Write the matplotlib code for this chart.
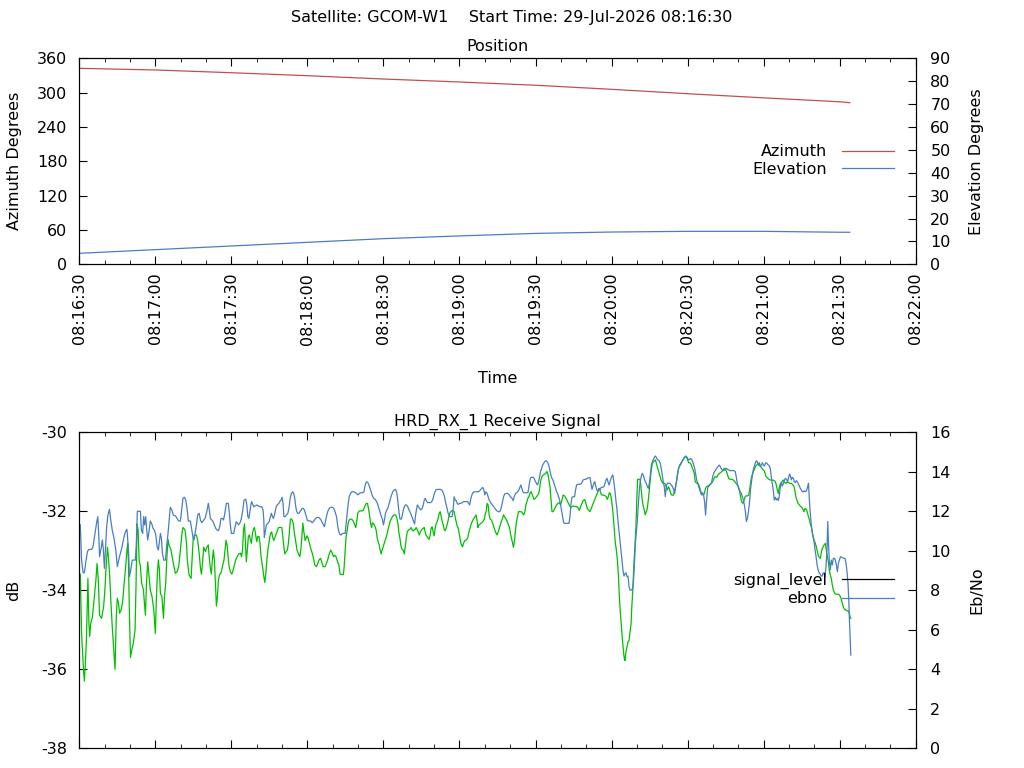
import numpy as np
import matplotlib
matplotlib.use("Agg")
import matplotlib.pyplot as plt
from matplotlib.ticker import MultipleLocator, FuncFormatter
from matplotlib.lines import Line2D

plt.rcParams['font.family'] = 'DejaVu Sans'
plt.rcParams['font.size'] = 11.5
plt.rcParams['axes.titlesize'] = 11.5
plt.rcParams['axes.unicode_minus'] = False

# start of pass, seconds since midnight (08:16:30)
START = 8 * 3600 + 16 * 60 + 30

# position (seconds from start)
pos_t = [0, 30, 60, 90, 120, 150, 180, 210, 240, 270, 300, 304]
azimuth = [342.5, 339.6, 334.8, 329.6, 323.8, 318.6, 312.9, 305.8, 298.1, 290.9, 284.0, 282.4]
elevation = [4.8, 6.4, 8.0, 9.6, 11.2, 12.4, 13.5, 14.1, 14.4, 14.4, 14.0, 14.0]

# signal level (dB), left axis
sig_t = [0.4, 0.9, 1.7, 2.0, 2.4, 2.8, 3.2, 3.4, 3.8, 4.1, 4.5, 5.2, 5.8, 6.5, 7.0, 7.3, 7.5, 8.0, 8.8, 9.6,
         10.1, 10.5, 11.1, 11.5, 12.0, 12.5, 13.0, 13.6, 14.1, 14.6, 15.0, 15.5, 15.9, 16.5, 17.1, 17.8, 18.3, 18.8, 19.1, 19.4,
         19.8, 20.2, 20.7, 21.3, 22.0, 22.4, 22.8, 23.2, 23.6, 24.1, 24.6, 25.3, 25.7, 26.1, 26.5, 27.0, 27.4, 28.0, 28.7, 29.4,
         29.8, 30.0, 30.4, 30.8, 31.2, 31.6, 32.0, 32.6, 33.2, 33.6, 34.1, 34.5, 35.0, 35.4, 36.2, 37.1, 37.9, 38.6, 39.2, 39.9,
         40.5, 40.9, 41.7, 42.3, 42.6, 43.3, 44.1, 44.5, 44.9, 45.4, 46.2, 46.7, 47.3, 47.8, 48.2, 48.7, 49.1, 49.8, 50.4, 50.9,
         51.3, 51.7, 52.1, 52.5, 52.9, 53.3, 53.7, 54.1, 54.5, 54.9, 55.3, 55.8, 56.2, 56.6, 57.1, 57.5, 57.9, 58.3, 58.7, 59.1,
         59.6, 60.2, 60.7, 61.2, 61.7, 62.3, 62.9, 63.6, 64.0, 64.4, 64.8, 65.2, 65.5, 65.9, 66.3, 66.7, 67.1, 67.5, 67.9, 68.3,
         68.7, 69.1, 69.5, 70.0, 70.4, 70.9, 71.3, 71.7, 72.3, 72.8, 73.2, 73.6, 74.0, 74.4, 74.8, 75.2, 75.5, 75.9, 76.3, 76.7,
         77.1, 77.5, 78.0, 78.6, 79.2, 79.9, 80.3, 80.7, 81.1, 81.6, 82.1, 82.5, 82.9, 83.3, 83.8, 84.4, 84.8, 85.2, 85.5, 85.9,
         86.5, 87.0, 87.4, 87.8, 88.2, 88.6, 89.1, 89.5, 89.9, 90.3, 90.8, 91.3, 91.9, 92.4, 92.9, 93.6, 94.1, 94.6, 95.2, 95.7,
         96.2, 97.0, 97.5, 98.0, 98.6, 99.2, 99.8, 100.3, 100.8, 101.3, 101.9, 102.4, 102.7, 102.9, 103.6, 104.2, 104.5, 104.9, 105.3, 105.7,
         106.2, 106.7, 107.5, 108.2, 108.7, 109.1, 109.5, 109.9, 110.4, 111.5, 112.1, 112.6, 113.2, 113.7, 114.1, 114.5, 114.9, 115.3, 115.7, 116.2,
         116.7, 117.1, 117.5, 117.9, 118.3, 118.7, 119.1, 119.5, 120.0, 120.5, 121.1, 121.6, 122.1, 122.6, 123.2, 123.7, 124.2, 124.8, 125.3, 125.7,
         126.1, 126.5, 126.9, 127.3, 127.8, 128.2, 128.6, 129.0, 129.4, 129.9, 130.4, 130.9, 131.3, 131.7, 132.1, 132.5, 132.9, 133.3, 133.7, 134.1,
         134.6, 135.1, 135.7, 136.1, 136.5, 136.9, 137.3, 137.6, 138.0, 138.4, 138.8, 139.2, 139.6, 140.0, 140.4, 140.8, 141.2, 141.6, 142.0, 142.4,
         142.8, 143.2, 143.6, 144.0, 144.4, 144.8, 145.3, 145.8, 146.3, 146.9, 147.4, 147.9, 148.4, 149.0, 149.5, 150.0, 150.4, 150.8, 151.2, 151.6,
         152.1, 152.6, 153.2, 153.6, 154.0, 154.5, 155.0, 155.5, 156.1, 156.5, 156.9, 157.3, 157.6, 158.2, 158.7, 159.2, 159.8, 160.1, 160.5, 160.9,
         161.3, 161.7, 162.1, 162.6, 163.2, 163.7, 164.2, 164.8, 165.1, 165.5, 165.9, 166.5, 167.0, 167.4, 167.8, 168.2, 168.7, 169.2, 169.8, 170.1,
         170.5, 170.9, 171.3, 171.7, 172.1, 172.5, 172.9, 173.3, 173.8, 174.4, 174.9, 175.4, 175.8, 176.2, 176.6, 177.0, 177.4, 177.8, 178.2, 178.6,
         179.0, 179.4, 179.9, 180.4, 180.9, 181.3, 181.7, 182.1, 182.5, 183.0, 183.6, 184.1, 184.5, 184.9, 185.3, 185.7, 186.1, 186.5, 186.9, 187.3,
         187.8, 188.3, 188.8, 189.4, 189.9, 190.4, 190.9, 191.5, 192.0, 192.5, 193.0, 193.6, 194.1, 194.6, 195.2, 195.7, 196.2, 196.7, 197.3, 197.8,
         198.3, 198.8, 199.4, 199.9, 200.4, 200.9, 201.5, 202.0, 202.5, 203.0, 203.6, 204.1, 204.6, 205.1, 205.4, 205.8, 206.2, 206.9, 207.5, 207.9,
         208.3, 208.7, 209.1, 209.5, 209.9, 210.3, 210.7, 211.1, 211.5, 211.9, 212.3, 212.7, 213.0, 213.4, 213.8, 214.2, 214.6, 215.0, 215.3, 215.7,
         216.1, 216.5, 216.9, 217.3, 217.7, 218.0, 218.4, 218.8, 219.2, 219.6, 220.0, 220.3, 220.8, 221.3, 221.7, 222.1, 222.5, 222.9, 223.3, 223.7,
         224.1, 224.5, 224.9, 225.3, 225.7, 226.1, 226.5, 226.9, 227.3, 227.7, 228.0, 228.4, 228.8, 229.2, 229.6, 230.2, 230.7, 231.2, 231.6, 232.0,
         232.4, 232.8, 233.3, 233.8, 234.4, 234.8, 235.2, 235.5, 235.9, 236.3, 236.7, 237.1, 237.5, 237.9, 238.3, 238.8, 239.4, 239.9, 240.4, 240.9,
         241.5, 241.9, 242.3, 242.7, 243.0, 243.6, 244.1, 244.6, 245.0, 245.4, 245.8, 246.2, 246.6, 247.0, 247.4, 247.8, 248.3, 248.8, 249.4, 249.9,
         250.4, 250.9, 251.5, 252.0, 252.5, 253.0, 253.6, 254.1, 254.6, 255.2, 255.7, 256.2, 256.7, 257.0, 257.5, 258.1, 258.6, 259.1, 259.6, 260.2,
         260.7, 261.1, 261.5, 261.9, 262.3, 262.7, 263.1, 263.6, 264.1, 264.5, 264.9, 265.3, 265.7, 266.1, 266.5, 266.9, 267.3, 267.7, 268.1, 268.6,
         269.1, 269.6, 270.2, 270.6, 270.9, 271.3, 271.7, 272.1, 272.7, 273.1, 273.6, 274.1, 274.6, 275.0, 275.4, 275.8, 276.2, 276.7, 277.3, 277.7,
         278.1, 278.6, 279.0, 279.4, 279.9, 280.4, 280.9, 281.5, 281.9, 282.3, 282.7, 283.1, 283.6, 284.1, 284.6, 285.2, 285.6, 285.9, 286.3, 286.9,
         287.3, 287.7, 288.1, 288.4, 288.8, 289.2, 289.6, 290.0, 290.4, 290.8, 291.2, 291.6, 292.0, 292.4, 292.8, 293.2, 293.6, 294.0, 294.4, 294.8,
         295.2, 295.6, 295.9, 296.3, 296.7, 297.1, 297.5, 297.9, 298.3, 298.8, 299.4, 299.9, 300.3, 300.7, 301.1, 301.5, 301.9, 302.4, 302.9, 303.4,
         303.8, 304.1, 304.4]
signal_level = [-33.59, -35.09, -36.06, -36.30, -35.85, -35.26, -34.16, -33.70, -34.84, -35.17, -34.84, -34.67, -34.25, -33.78, -33.32, -33.57, -33.74, -34.63, -34.71, -34.41,
                -33.99, -33.49, -32.91, -33.15, -33.65, -34.33, -34.92, -35.51, -36.00, -34.67, -34.20, -34.33, -34.58, -34.50, -34.29, -33.74, -33.40, -32.98, -32.81, -33.32,
                -34.67, -35.70, -35.51, -35.34, -35.00, -33.82, -32.32, -32.47, -33.23, -33.40, -33.82, -33.99, -34.33, -34.63, -33.82, -33.28, -33.57, -33.99, -34.16, -34.50,
                -34.88, -35.09, -34.25, -33.57, -33.23, -33.49, -34.08, -34.16, -34.71, -34.16, -33.82, -33.23, -32.71, -32.85, -32.98, -33.32, -33.57, -33.53, -33.40, -32.98,
                -32.56, -32.41, -32.47, -32.81, -33.23, -33.61, -33.70, -33.23, -32.73, -32.60, -32.60, -32.73, -33.06, -33.44, -33.59, -33.23, -32.91, -33.02, -32.90, -32.85,
                -33.19, -33.44, -33.59, -33.23, -32.98, -33.23, -33.82, -34.40, -34.16, -33.74, -33.61, -33.57, -33.49, -33.36, -33.23, -32.98, -32.73, -32.85, -33.15, -33.40,
                -33.53, -33.59, -33.49, -33.36, -33.23, -33.15, -33.08, -33.06, -33.15, -32.98, -32.47, -32.32, -32.73, -33.28, -32.98, -32.64, -32.60, -32.73, -32.81, -32.56,
                -32.45, -32.41, -32.56, -32.77, -32.64, -32.64, -32.81, -33.15, -33.40, -33.65, -33.80, -33.57, -33.23, -32.98, -32.81, -32.64, -32.56, -32.52, -32.66, -32.74,
                -32.68, -32.60, -32.52, -32.41, -32.41, -32.41, -32.64, -32.90, -33.08, -33.02, -32.98, -32.81, -32.52, -32.20, -32.20, -32.30, -32.52, -32.68, -32.81, -32.98,
                -33.08, -33.15, -32.98, -32.64, -32.30, -32.52, -32.74, -32.68, -32.62, -32.68, -32.81, -32.94, -33.06, -33.19, -33.36, -33.40, -33.32, -33.23, -33.19, -33.30,
                -33.40, -33.40, -33.32, -33.23, -33.08, -32.98, -33.06, -33.15, -33.11, -33.15, -33.28, -33.36, -33.49, -33.59, -33.60, -33.60, -33.40, -32.98, -32.64, -32.47,
                -32.26, -32.20, -32.20, -32.26, -32.35, -32.41, -32.22, -32.05, -31.99, -31.99, -31.97, -31.88, -31.80, -31.80, -31.93, -32.09, -32.29, -32.41, -32.29, -32.32,
                -32.39, -32.47, -32.66, -32.77, -32.85, -32.98, -33.08, -32.98, -32.88, -32.77, -32.66, -32.52, -32.39, -32.26, -32.18, -32.12, -32.09, -32.09, -32.18, -32.30,
                -32.54, -32.68, -32.88, -32.96, -32.98, -33.08, -32.90, -32.68, -32.52, -32.47, -32.46, -32.41, -32.47, -32.50, -32.47, -32.46, -32.41, -32.46, -32.52, -32.60,
                -32.52, -32.46, -32.43, -32.41, -32.54, -32.62, -32.64, -32.68, -32.71, -32.62, -32.43, -32.39, -32.52, -32.62, -32.43, -32.32, -32.26, -32.18, -32.05, -32.01,
                -32.14, -32.26, -32.35, -32.47, -32.49, -32.41, -32.30, -32.14, -32.03, -31.99, -31.98, -32.01, -32.18, -32.35, -32.43, -32.60, -32.77, -32.85, -32.90, -32.81,
                -32.74, -32.73, -32.68, -32.56, -32.46, -32.35, -32.26, -32.20, -32.14, -32.09, -32.22, -32.41, -32.35, -32.32, -32.29, -32.26, -32.20, -32.09, -32.01, -31.80,
                -31.84, -32.09, -32.20, -32.22, -32.32, -32.43, -32.52, -32.60, -32.56, -32.47, -32.39, -32.26, -32.18, -32.09, -32.14, -32.18, -32.24, -32.32, -32.43, -32.56,
                -32.68, -32.81, -32.91, -32.74, -32.47, -32.26, -32.14, -32.01, -32.01, -32.01, -32.05, -32.09, -32.01, -31.84, -31.76, -31.67, -31.63, -31.55, -31.50, -31.56,
                -31.63, -31.70, -31.67, -31.63, -31.59, -31.55, -31.38, -31.21, -31.12, -31.08, -31.06, -31.04, -30.99, -31.06, -31.21, -31.38, -31.71, -32.01, -32.01, -31.97,
                -31.90, -31.84, -31.80, -31.78, -31.84, -31.71, -31.59, -31.61, -31.67, -31.73, -31.80, -31.88, -31.90, -31.87, -31.87, -31.88, -31.88, -31.90, -31.98, -31.88,
                -31.80, -31.73, -31.70, -31.80, -31.93, -31.97, -32.01, -31.93, -31.84, -31.76, -31.67, -31.59, -31.50, -31.42, -31.46, -31.55, -31.59, -31.59, -31.61, -31.63,
                -31.70, -31.63, -31.53, -31.55, -31.67, -31.88, -32.14, -32.47, -32.81, -32.98, -33.23, -33.61, -34.08, -34.50, -34.84, -35.17, -35.47, -35.72, -35.78, -35.55,
                -35.43, -35.30, -35.27, -35.05, -34.84, -34.41, -33.98, -33.36, -32.90, -32.43, -31.63, -31.19, -31.19, -31.19, -31.46, -31.71, -31.87, -31.97, -32.09, -32.01,
                -31.93, -31.71, -31.46, -31.17, -30.95, -30.79, -30.74, -30.72, -30.70, -30.79, -30.87, -30.95, -31.04, -31.14, -31.22, -31.29, -31.29, -31.31, -31.38, -31.46,
                -31.38, -31.42, -31.55, -31.59, -31.59, -31.50, -31.39, -31.29, -31.12, -30.95, -30.87, -30.83, -30.79, -30.72, -30.68, -30.63, -30.62, -30.68, -30.77, -30.77,
                -30.83, -30.91, -30.97, -31.06, -31.25, -31.29, -31.29, -31.36, -31.46, -31.53, -31.56, -31.59, -31.55, -31.44, -31.38, -31.36, -31.36, -31.32, -31.29, -31.25,
                -31.17, -31.12, -31.14, -31.08, -31.04, -31.02, -30.99, -30.94, -30.91, -30.97, -31.06, -31.17, -31.19, -31.19, -31.19, -31.21, -31.25, -31.29, -31.33, -31.42,
                -31.55, -31.71, -31.78, -31.80, -31.71, -31.63, -31.61, -31.61, -31.59, -31.46, -31.25, -31.12, -31.04, -30.97, -30.91, -30.85, -30.83, -30.80, -30.83, -30.85,
                -30.89, -30.94, -30.97, -31.04, -31.11, -31.14, -31.17, -31.19, -31.21, -31.21, -31.21, -31.22, -31.25, -31.33, -31.46, -31.55, -31.38, -31.29, -31.25, -31.21,
                -31.25, -31.29, -31.29, -31.25, -31.28, -31.29, -31.29, -31.33, -31.36, -31.46, -31.63, -31.71, -31.80, -31.84, -31.88, -31.91, -31.97, -32.01, -31.93, -31.95,
                -32.05, -32.14, -32.22, -32.32, -32.39, -32.52, -32.66, -32.74, -32.81, -32.90, -33.02, -33.13, -33.17, -33.19, -33.02, -32.94, -32.88, -32.84, -32.81, -33.02,
                -33.15, -33.32, -33.49, -33.61, -33.70, -33.87, -33.99, -34.06, -34.09, -34.10, -34.10, -34.12, -34.16, -34.25, -34.33, -34.43, -34.48, -34.50, -34.52, -34.52,
                -34.57, -34.67, -34.71]

# Eb/No, right axis
ebno_t = [0.4, 0.9, 1.5, 2.0, 2.5, 3.2, 3.8, 4.9, 5.4, 5.9, 6.5, 6.9, 7.3, 7.7, 8.0, 8.6, 9.1, 9.5, 9.9, 10.4,
          10.8, 11.3, 11.9, 12.4, 13.0, 13.7, 14.4, 15.0, 15.7, 16.2, 16.9, 17.5, 18.2, 18.8, 19.4, 19.8, 20.4, 20.9, 22.1, 22.5,
          22.9, 24.1, 24.5, 25.0, 25.4, 25.8, 26.2, 26.6, 27.0, 27.5, 28.0, 28.6, 29.1, 29.6, 30.2, 30.7, 31.2, 31.6, 32.0, 32.4,
          32.8, 33.3, 34.0, 34.5, 35.0, 35.4, 35.9, 36.5, 37.1, 38.0, 38.6, 39.2, 39.9, 40.4, 40.9, 41.5, 42.0, 42.5, 43.0, 43.8,
          44.4, 44.9, 45.3, 45.7, 46.2, 46.7, 47.3, 47.8, 48.3, 49.0, 49.6, 50.3, 50.9, 51.3, 51.7, 52.3, 52.8, 53.3, 53.8, 54.4,
          54.9, 55.4, 55.9, 56.5, 56.9, 57.3, 57.7, 58.0, 58.8, 59.2, 59.6, 60.0, 60.9, 61.5, 61.9, 62.3, 62.8, 63.3, 63.8, 64.2,
          64.6, 65.0, 65.7, 66.1, 66.5, 66.9, 67.3, 67.7, 68.0, 68.4, 68.8, 69.4, 70.0, 70.7, 71.3, 72.0, 72.5, 72.8, 73.0, 73.4,
          73.8, 74.4, 74.9, 75.4, 75.8, 76.2, 76.6, 77.0, 77.4, 77.8, 78.3, 78.7, 79.1, 79.6, 80.0, 80.4, 80.7, 81.2, 81.7, 82.3,
          82.8, 83.2, 83.7, 84.2, 84.6, 85.0, 85.4, 85.8, 86.2, 86.7, 87.1, 87.5, 87.9, 88.3, 88.8, 89.2, 89.6, 90.0, 90.7, 91.3,
          91.9, 92.3, 92.8, 93.3, 93.8, 94.5, 95.2, 95.7, 96.2, 96.7, 97.1, 97.5, 98.0, 98.6, 99.2, 99.9, 100.4, 100.9, 101.5, 102.0,
          102.4, 102.7, 103.3, 103.8, 104.4, 104.9, 105.3, 105.7, 106.1, 106.5, 107.0, 107.5, 108.3, 109.0, 109.5, 110.0, 110.5, 111.1, 111.7, 112.3,
          112.6, 113.0, 113.4, 114.0, 114.5, 115.0, 115.5, 116.1, 116.7, 117.3, 117.6, 118.0, 118.4, 118.8, 119.2, 119.6, 120.0, 120.4, 120.8, 121.3,
          121.7, 122.1, 122.6, 123.2, 123.7, 124.2, 124.8, 125.3, 125.7, 126.1, 126.5, 127.1, 127.6, 128.0, 128.6, 129.1, 129.6, 130.1, 130.7, 131.2,
          131.7, 132.3, 132.6, 133.0, 133.4, 133.8, 134.2, 134.8, 135.3, 135.7, 136.1, 136.5, 136.9, 137.4, 137.9, 138.6, 139.1, 139.6, 140.1, 140.7,
          141.2, 141.7, 142.4, 143.0, 143.6, 144.1, 144.6, 145.1, 145.5, 146.1, 146.6, 147.1, 147.5, 147.9, 148.3, 148.7, 149.1, 149.5, 150.0, 150.5,
          151.1, 151.6, 152.1, 152.6, 153.2, 153.6, 154.0, 154.5, 154.9, 155.3, 155.9, 156.7, 157.5, 158.0, 158.4, 158.8, 159.2, 159.6, 160.0, 160.4,
          160.9, 161.3, 161.7, 162.3, 162.8, 163.3, 163.7, 164.2, 164.8, 165.4, 165.9, 166.3, 166.7, 167.1, 167.5, 167.9, 168.6, 169.1, 169.6, 170.1,
          170.7, 171.2, 171.6, 172.0, 172.5, 173.0, 173.4, 173.8, 174.2, 174.6, 175.0, 175.4, 175.9, 176.5, 177.0, 177.4, 177.8, 178.2, 178.7, 179.2,
          179.6, 180.0, 180.4, 180.8, 181.2, 181.6, 182.0, 182.4, 182.8, 183.2, 183.6, 184.0, 184.4, 184.8, 185.2, 185.5, 185.9, 186.3, 186.7, 187.1,
          187.5, 187.9, 188.3, 188.7, 189.1, 189.5, 189.9, 190.3, 190.7, 191.1, 191.6, 192.1, 192.6, 193.2, 193.6, 194.0, 194.4, 194.9, 195.4, 195.8,
          196.2, 196.7, 197.3, 197.8, 198.3, 198.8, 199.4, 199.9, 200.4, 200.9, 201.5, 201.9, 202.3, 202.7, 203.0, 203.4, 203.8, 204.2, 204.6, 205.0,
          205.4, 205.9, 206.5, 207.0, 207.4, 207.8, 208.2, 208.6, 209.0, 209.4, 209.8, 210.2, 210.5, 210.9, 211.3, 211.7, 212.1, 212.5, 212.9, 213.3,
          213.7, 214.1, 214.5, 214.9, 215.3, 215.7, 216.1, 216.5, 216.9, 217.3, 217.8, 218.2, 218.6, 219.0, 219.4, 219.8, 220.2, 220.5, 220.9, 221.3,
          221.7, 222.1, 222.5, 222.9, 223.3, 223.7, 224.1, 224.5, 224.9, 225.3, 225.7, 226.1, 226.5, 226.9, 227.3, 227.7, 228.0, 228.4, 228.8, 229.2,
          229.6, 230.0, 230.4, 230.8, 231.2, 231.6, 232.0, 232.5, 233.0, 233.6, 234.1, 234.5, 234.9, 235.3, 235.7, 236.1, 236.5, 236.9, 237.3, 237.7,
          238.0, 238.4, 238.8, 239.2, 239.6, 240.0, 240.4, 240.8, 241.2, 241.6, 242.0, 242.4, 242.8, 243.2, 243.6, 244.0, 244.4, 244.8, 245.2, 245.6,
          245.9, 246.3, 246.7, 247.1, 247.5, 247.9, 248.3, 248.8, 249.4, 249.9, 250.4, 250.9, 251.5, 252.0, 252.4, 252.8, 253.2, 253.7, 254.2, 254.8,
          255.3, 255.8, 256.3, 256.7, 257.3, 257.8, 258.3, 258.8, 259.2, 259.6, 260.0, 260.4, 260.8, 261.2, 261.6, 262.0, 262.4, 262.8, 263.2, 263.6,
          264.0, 264.4, 264.8, 265.2, 265.6, 265.9, 266.3, 266.7, 267.1, 267.5, 267.9, 268.3, 268.7, 269.1, 269.5, 269.9, 270.3, 270.7, 271.1, 271.5,
          271.9, 272.3, 272.7, 273.1, 273.4, 273.8, 274.2, 274.6, 275.0, 275.4, 275.8, 276.2, 276.6, 277.0, 277.4, 277.8, 278.2, 278.6, 279.0, 279.4,
          279.8, 280.2, 280.6, 280.9, 281.3, 281.7, 282.1, 282.5, 282.9, 283.3, 283.7, 284.1, 284.5, 284.9, 285.3, 285.7, 286.1, 286.5, 286.9, 287.3,
          287.7, 287.9, 288.3, 288.7, 289.1, 289.5, 289.9, 290.3, 290.7, 291.1, 291.5, 291.9, 292.3, 292.7, 293.1, 293.4, 293.8, 294.2, 294.6, 295.0,
          295.3, 295.6, 295.9, 296.3, 296.7, 297.1, 297.5, 297.9, 298.3, 298.7, 299.1, 299.5, 299.9, 300.3, 300.9, 301.6, 302.1, 302.5, 302.9, 303.3,
          303.6, 303.8, 304.1, 304.4]
ebno = [11.31, 9.53, 8.89, 8.89, 9.37, 9.96, 10.07, 10.07, 10.21, 10.63, 11.12, 11.48, 11.73, 10.72, 9.70, 10.13, 10.55, 10.04, 9.11, 10.29,
        11.22, 11.81, 12.10, 11.56, 11.05, 10.63, 10.04, 9.20, 9.62, 9.87, 10.21, 10.63, 10.97, 11.09, 10.04, 8.69, 9.11, 9.53, 9.53, 10.38,
        12.00, 12.00, 11.05, 10.88, 11.73, 11.31, 11.73, 11.05, 10.55, 10.97, 11.51, 11.36, 11.14, 11.05, 10.80, 10.21, 10.04, 10.46, 10.88, 10.63,
        9.87, 9.53, 9.53, 10.29, 10.88, 11.48, 12.20, 12.07, 11.81, 11.76, 11.64, 11.51, 11.51, 12.07, 12.66, 12.71, 12.57, 12.15, 11.51, 11.51,
        11.05, 10.63, 10.55, 10.88, 11.31, 11.81, 11.90, 11.56, 11.42, 11.53, 11.64, 11.98, 12.40, 12.07, 11.64, 11.56, 11.47, 11.31, 11.14, 11.05,
        11.02, 11.22, 11.64, 11.64, 11.56, 11.81, 12.15, 12.40, 12.40, 11.90, 11.31, 10.88, 10.88, 11.22, 11.47, 11.42, 11.31, 11.39, 11.56, 11.81,
        12.15, 12.57, 12.61, 12.32, 11.73, 11.64, 11.98, 12.32, 12.49, 12.37, 12.23, 12.27, 12.32, 12.27, 12.23, 12.23, 12.07, 11.56, 10.68, 10.97,
        11.31, 11.39, 11.47, 11.73, 11.90, 11.73, 11.64, 11.81, 12.07, 12.27, 12.35, 12.40, 12.49, 12.57, 12.71, 12.40, 11.73, 11.73, 11.81, 11.90,
        12.23, 12.66, 12.91, 12.99, 12.91, 12.66, 12.23, 11.98, 11.90, 11.90, 11.98, 12.07, 12.15, 12.15, 12.07, 11.90, 11.73, 11.53, 11.51, 11.51,
        11.42, 11.47, 11.56, 11.64, 11.69, 11.69, 11.59, 11.47, 11.36, 11.22, 11.47, 11.73, 11.98, 12.15, 12.20, 12.20, 12.15, 11.98, 11.73, 11.22,
        10.97, 10.85, 10.80, 10.88, 10.88, 10.88, 11.39, 11.90, 12.40, 12.74, 12.91, 12.99, 12.99, 12.94, 12.88, 12.83, 12.91, 12.94, 12.94, 12.99,
        13.21, 13.42, 13.50, 13.42, 13.25, 13.05, 12.83, 12.66, 12.61, 12.49, 12.40, 12.23, 12.07, 11.90, 11.73, 11.59, 11.31, 11.56, 11.90, 12.07,
        12.15, 12.32, 12.57, 12.83, 12.99, 13.08, 13.11, 12.91, 12.49, 11.98, 11.61, 11.61, 11.90, 12.15, 12.32, 12.32, 12.23, 12.07, 11.90, 11.73,
        11.56, 11.36, 11.73, 12.07, 12.32, 12.23, 12.15, 12.07, 12.15, 12.32, 12.57, 12.66, 12.54, 12.44, 12.44, 12.44, 12.49, 12.66, 12.91, 13.08,
        13.11, 13.11, 13.11, 13.08, 12.94, 12.74, 12.40, 12.15, 11.90, 11.73, 11.73, 11.73, 12.07, 12.74, 12.57, 12.54, 12.40, 12.35, 12.40, 12.40,
        12.44, 12.49, 12.49, 12.49, 12.49, 12.40, 12.32, 12.66, 12.83, 12.94, 12.99, 12.99, 12.99, 13.04, 13.11, 13.16, 13.21, 13.08, 12.83, 12.99,
        12.91, 12.74, 12.57, 12.44, 12.35, 12.27, 12.20, 12.10, 12.02, 11.98, 11.98, 12.10, 12.32, 12.57, 12.78, 12.88, 12.91, 12.91, 12.83, 12.74,
        12.66, 12.54, 12.74, 12.88, 12.94, 12.99, 13.08, 13.21, 13.33, 13.16, 12.99, 12.94, 12.94, 12.94, 12.94, 13.25, 13.59, 13.72, 13.72, 13.72,
        13.62, 13.50, 13.42, 13.33, 13.50, 13.75, 14.01, 14.18, 14.34, 14.43, 14.51, 14.56, 14.55, 14.46, 14.34, 14.18, 13.92, 13.72, 13.62, 13.50,
        13.33, 13.16, 12.99, 12.91, 12.74, 12.57, 12.32, 12.03, 11.73, 11.42, 11.39, 11.39, 11.39, 11.39, 11.73, 12.40, 12.71, 12.74, 12.74, 13.08,
        13.33, 13.37, 13.37, 13.37, 13.45, 13.59, 13.62, 13.62, 13.67, 13.70, 13.70, 13.42, 13.11, 13.28, 13.42, 13.50, 13.25, 13.08, 12.99, 13.16,
        13.08, 13.21, 13.21, 13.25, 13.42, 13.58, 13.67, 13.50, 13.33, 13.50, 13.67, 13.79, 13.84, 13.50, 13.08, 12.57, 12.15, 11.56, 11.05, 10.55,
        10.04, 9.53, 9.03, 8.72, 8.83, 8.89, 8.69, 8.72, 8.18, 8.01, 8.01, 8.05, 8.35, 9.28, 10.38, 10.97, 11.56, 12.23, 12.99, 13.50,
        13.75, 13.92, 13.84, 13.67, 13.50, 13.42, 13.25, 13.16, 13.42, 13.84, 14.34, 14.51, 14.63, 14.73, 14.80, 14.73, 14.63, 14.60, 14.56, 14.43,
        14.18, 13.84, 13.50, 13.25, 12.74, 13.25, 13.42, 13.42, 13.42, 13.33, 13.25, 13.08, 12.91, 13.25, 13.58, 13.92, 14.18, 14.34, 14.43, 14.51,
        14.56, 14.63, 14.73, 14.80, 14.77, 14.68, 14.60, 14.63, 14.68, 14.63, 14.51, 14.34, 14.18, 13.89, 13.58, 13.42, 13.25, 13.08, 12.91, 12.83,
        12.94, 12.83, 12.49, 11.81, 12.57, 13.16, 13.28, 13.33, 13.42, 13.75, 13.96, 14.06, 14.18, 14.26, 14.34, 14.29, 14.18, 14.09, 14.06, 14.12,
        14.18, 14.12, 14.09, 14.06, 14.06, 14.06, 14.06, 14.01, 13.75, 13.42, 13.25, 13.11, 12.99, 12.91, 12.74, 12.57, 12.32, 11.98, 11.48, 11.64,
        11.98, 12.40, 13.08, 13.50, 13.84, 14.09, 14.29, 14.43, 14.56, 14.51, 14.34, 14.46, 14.26, 14.34, 14.46, 14.34, 14.29, 14.43, 14.46, 14.39,
        14.34, 14.29, 14.12, 13.67, 13.42, 13.08, 12.57, 12.71, 12.57, 12.66, 12.54, 12.78, 13.21, 13.45, 13.28, 13.42, 13.59, 13.67, 13.62, 13.50,
        13.67, 13.89, 13.79, 13.59, 13.72, 13.67, 13.50, 13.45, 13.55, 13.50, 13.38, 13.28, 13.16, 13.08, 12.99, 12.99, 13.04, 12.99, 13.04, 13.21,
        13.42, 12.91, 12.07, 11.48, 10.97, 10.72, 10.46, 10.04, 9.70, 9.28, 9.03, 8.89, 8.82, 8.72, 8.72, 8.86, 8.89, 8.69, 9.20, 10.04,
        11.48, 10.38, 9.53, 9.03, 9.53, 9.28, 9.62, 9.62, 9.53, 9.28, 8.94, 9.37, 9.53, 9.70, 9.67, 9.62, 9.62, 9.37, 8.94, 8.35,
        7.51, 6.66, 5.65, 4.72]


def hms(x, pos):
    s = START + int(round(x))
    return "%02d:%02d:%02d" % (s // 3600, (s // 60) % 60, s % 60)


W, H = 1024, 768
L, R = 79.3 / W, 915.7 / W
fig = plt.figure(figsize=(10.24, 7.68), dpi=100)

red = '#c0504d'
blue = '#4a7ec3'
green = '#00c000'

# ---------------- Position ----------------
ax1 = fig.add_axes([L, 1 - 264.3 / H, R - L, (264.3 - 58.3) / H])
ax1b = ax1.twinx()
ax1.plot(pos_t, azimuth, color=red, lw=0.9)
ax1b.plot(pos_t, elevation, color=blue, lw=0.9)

ax1.set_xlim(0, 330)
ax1.set_ylim(0, 360)
ax1b.set_ylim(0, 90)
ax1.yaxis.set_major_locator(MultipleLocator(60))
ax1b.yaxis.set_major_locator(MultipleLocator(10))
ax1.xaxis.set_major_locator(MultipleLocator(30))
ax1.xaxis.set_minor_locator(MultipleLocator(10))
ax1.xaxis.set_major_formatter(FuncFormatter(hms))
ax1.tick_params(axis='x', which='both', direction='in', top=True, pad=6)
ax1.tick_params(axis='x', which='major', length=5.5)
ax1.tick_params(axis='x', which='minor', length=3)
ax1.tick_params(axis='y', direction='in', length=5.5, pad=8.5, right=False)
ax1b.tick_params(axis='y', direction='in', length=5.5, pad=10.5)
for lab in ax1.get_xticklabels():
    lab.set_rotation(90)
ax1.set_title('Position', pad=5)
ax1.set_xlabel('Time')
ax1.xaxis.set_label_coords(0.5, -0.52)
ax1.set_ylabel('Azimuth Degrees')
ax1.yaxis.set_label_coords(-0.069, 0.5)
ax1b.set_ylabel('Elevation Degrees')
ax1b.yaxis.set_label_coords(1.064, 0.5)

h1 = [Line2D([], [], color=red, lw=0.9), Line2D([], [], color=blue, lw=0.9)]
ax1b.legend(h1, ['Azimuth', 'Elevation'], loc='center right', bbox_to_anchor=(0.9737, 0.503),
            frameon=False, markerfirst=False, handlelength=3.25, handletextpad=0.9,
            borderpad=0, borderaxespad=0, labelspacing=0.15)

# ---------------- Receive signal ----------------
ax2 = fig.add_axes([L, 1 - 748.3 / H, R - L, (748.3 - 432.3) / H])
ax2b = ax2.twinx()
ax2.plot(sig_t, signal_level, color=green, lw=0.9)
ax2b.plot(ebno_t, ebno, color=blue, lw=0.9)

ax2.set_xlim(0, 330)
ax2.set_ylim(-38, -30)
ax2b.set_ylim(0, 16)
ax2.yaxis.set_major_locator(MultipleLocator(2))
ax2b.yaxis.set_major_locator(MultipleLocator(2))
ax2.xaxis.set_major_locator(MultipleLocator(30))
ax2.xaxis.set_minor_locator(MultipleLocator(10))
ax2.tick_params(axis='x', which='both', direction='in', top=True, labelbottom=False)
ax2.tick_params(axis='x', which='major', length=5.5)
ax2.tick_params(axis='x', which='minor', length=3)
ax2.tick_params(axis='y', direction='in', length=5.5, pad=8.5, right=False)
ax2b.tick_params(axis='y', direction='in', length=5.5, pad=10.5)
ax2.set_title('HRD_RX_1 Receive Signal', pad=5)
ax2.set_ylabel('dB')
ax2.yaxis.set_label_coords(-0.069, 0.5)
ax2b.set_ylabel('Eb/No')
ax2b.yaxis.set_label_coords(1.064, 0.5)

h2 = [Line2D([], [], color='black', lw=0.9), Line2D([], [], color=blue, lw=0.9)]
ax2b.legend(h2, ['signal_level', 'ebno'], loc='center right', bbox_to_anchor=(0.9737, 0.502),
            frameon=False, markerfirst=False, handlelength=3.25, handletextpad=0.9,
            borderpad=0, borderaxespad=0, labelspacing=0.15)

fig.text(0.5, 1 - 17.5 / H, 'Satellite: GCOM-W1    Start Time: 29-Jul-2026 08:16:30',
         ha='center', va='center')

fig.savefig('out.png', dpi=100)
